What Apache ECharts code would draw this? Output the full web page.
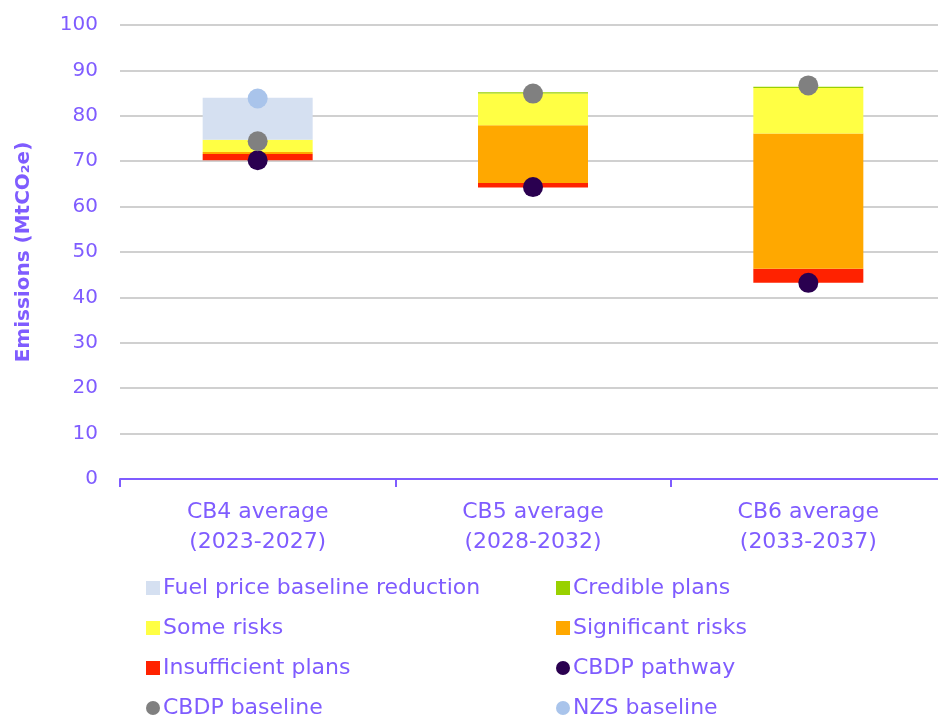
<!DOCTYPE html>
<html><head><meta charset="utf-8">
<script src="https://cdn.jsdelivr.net/npm/echarts@6/dist/echarts.min.js"></script>
<style>html,body{margin:0;padding:0;background:#fff}#c{width:938px;height:715px}</style>
</head><body><div id="c"></div>
<script>
const categories = ['CB4 average\n(2023-2027)', 'CB5 average\n(2028-2032)', 'CB6 average\n(2033-2037)'];
const baseHidden = [70.2, 64.2, 43.2];
const insufficientPlans = [1.4, 1.0, 3.1];
const significantRisks = [0.4, 12.7, 29.8];
const someRisks = [2.7, 7.0, 10.0];
const crediblePlans = [-0.3, 0.3, 0.3];
const fuelPriceReduction = [9.3, 0, 0];
const cbdpPathway = [70.2, 64.3, 43.2];
const cbdpBaseline = [74.4, 84.9, 86.7];
const nzsBaseline = [83.8, null, null];
const yTicks = [0, 10, 20, 30, 40, 50, 60, 70, 80, 90, 100];

const purple = '#7F5CFF';
const font = 'DejaVu Sans';
const chart = echarts.init(document.getElementById('c'), null, {renderer: 'canvas'});
const bar = (name, data, color) => ({
  name, type: 'bar', stack: 's', data, barWidth: 110,
  itemStyle: {color}, emphasis: {disabled: true}
});
const sc = (name, data, color) => ({
  name, type: 'scatter', data, symbolSize: 20, itemStyle: {color, opacity: 1}, z: 10
});
const legendCommon = {
  orient: 'vertical', itemWidth: 14, itemHeight: 14, itemGap: 18, height: 200,
  textStyle: {color: purple, fontSize: 22, fontFamily: font, padding: [0, 0, 0, -2]},
  selectedMode: false
};
chart.setOption({
  animation: false,
  grid: {left: 120, width: 826, top: 25, bottom: 236, outerBoundsMode: 'none', containLabel: false},
  xAxis: {
    type: 'category', data: categories,
    axisLine: {lineStyle: {color: purple, width: 2}},
    axisTick: {show: true, length: 8, lineStyle: {color: purple, width: 2}},
    axisLabel: {color: purple, fontSize: 22, fontFamily: font, lineHeight: 30, margin: 18}
  },
  yAxis: {
    type: 'value', min: yTicks[0], max: yTicks[yTicks.length - 1], interval: 10,
    axisLine: {show: false}, axisTick: {show: false},
    splitLine: {lineStyle: {color: '#D0D0D0', width: 2}},
    axisLabel: {color: purple, fontSize: 20, fontFamily: font, margin: 22},
    name: 'Emissions (MtCO₂e)', nameLocation: 'middle', nameGap: 86,
    nameTextStyle: {color: purple, fontSize: 20, fontWeight: 'bold', fontFamily: font}
  },
  legend: [
    Object.assign({left: 141, top: 572, data: [
      {name: 'Fuel price baseline reduction', icon: 'rect'},
      {name: 'Some risks', icon: 'rect'},
      {name: 'Insufficient plans', icon: 'rect'},
      {name: 'CBDP baseline', icon: 'circle'}
    ]}, legendCommon),
    Object.assign({left: 551, top: 572, data: [
      {name: 'Credible plans', icon: 'rect'},
      {name: 'Significant risks', icon: 'rect'},
      {name: 'CBDP pathway', icon: 'circle'},
      {name: 'NZS baseline', icon: 'circle'}
    ]}, legendCommon)
  ],
  series: [
    bar('base', baseHidden, 'rgba(0,0,0,0)'),
    bar('Insufficient plans', insufficientPlans, '#FF2200'),
    bar('Significant risks', significantRisks, '#FFA800'),
    bar('Some risks', someRisks, '#FFFF44'),
    bar('Credible plans', crediblePlans, '#99D100'),
    bar('Fuel price baseline reduction', fuelPriceReduction, '#D5E0F1'),
    sc('CBDP pathway', cbdpPathway, '#2A0050'),
    sc('CBDP baseline', cbdpBaseline, '#808080'),
    sc('NZS baseline', nzsBaseline, '#A9C4EB')
  ]
});
</script></body></html>
